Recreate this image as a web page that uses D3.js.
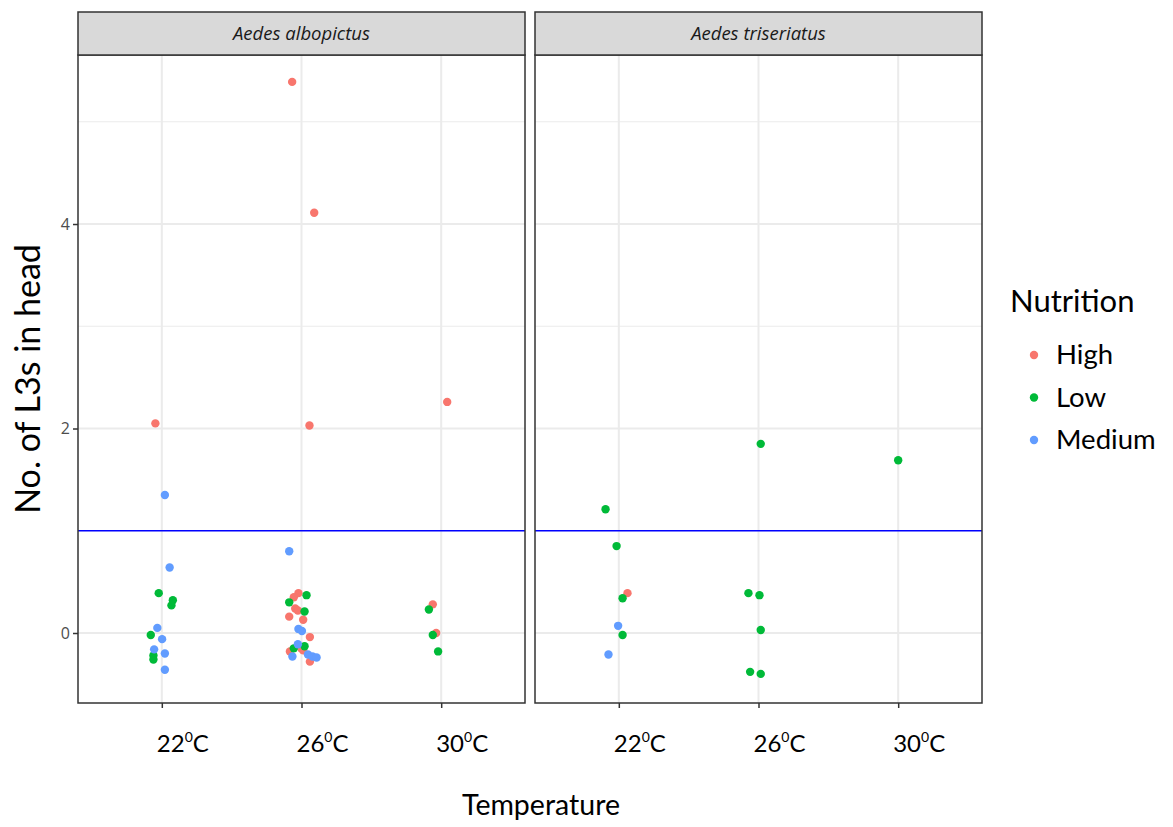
<!DOCTYPE html>
<html><head><meta charset="utf-8">
<script src="https://cdn.jsdelivr.net/npm/d3@7"></script>
<style>
body{margin:0;background:#fff;}
svg{display:block;}
</style></head>
<body>
<svg id="chart" width="1173" height="827"></svg>
<script>
// ---- data ----
const species = ["Aedes albopictus", "Aedes triseriatus"];
const temperatures = ["22", "26", "30"];
const nutritionLevels = ["High", "Low", "Medium"];
const nutritionColors = ["#F8766D", "#00BA38", "#619CFF"];
const yTicks = [0, 2, 4];
const thresholdValue = 1;
// points: [speciesIndex, temperature, jitter (category units), value]
const highPoints = [
  [0,"22",-0.046,2.05],
  [0,"26",-0.067,5.39],[0,"26",0.091,4.11],[0,"26",0.057,2.03],[0,"26",-0.022,0.39],
  [0,"26",-0.055,0.35],[0,"26",-0.045,0.24],[0,"26",-0.026,0.22],[0,"26",-0.088,0.16],
  [0,"26",0.012,0.13],[0,"26",0.060,-0.04],[0,"26",-0.002,-0.15],[0,"26",0.012,-0.17],
  [0,"26",-0.083,-0.18],[0,"26",0.060,-0.28],
  [0,"30",0.043,2.26],[0,"30",-0.060,0.28],[0,"30",-0.036,0.00],
  [1,"22",0.062,0.39]
];
const lowPoints = [
  [0,"22",-0.022,0.39],[0,"22",0.079,0.32],[0,"22",0.069,0.27],[0,"22",-0.079,-0.02],
  [0,"22",-0.060,-0.22],[0,"22",-0.060,-0.26],
  [0,"26",0.036,0.37],[0,"26",-0.088,0.30],[0,"26",0.022,0.21],[0,"26",0.022,-0.13],
  [0,"26",-0.055,-0.15],
  [0,"30",-0.088,0.23],[0,"30",-0.060,-0.02],[0,"30",-0.022,-0.18],
  [1,"22",-0.095,1.21],[1,"22",-0.016,0.85],[1,"22",0.027,0.34],[1,"22",0.027,-0.02],
  [1,"26",0.016,1.85],[1,"26",-0.072,0.39],[1,"26",0.007,0.37],[1,"26",0.016,0.03],
  [1,"26",-0.060,-0.38],[1,"26",0.016,-0.40],
  [1,"30",0.000,1.69]
];
const mediumPoints = [
  [0,"22",0.022,1.35],[0,"22",0.056,0.64],[0,"22",-0.032,0.05],[0,"22",0.002,-0.06],
  [0,"22",-0.055,-0.16],[0,"22",0.022,-0.20],[0,"22",0.022,-0.36],
  [0,"26",-0.088,0.80],[0,"26",-0.022,0.04],[0,"26",0.003,0.02],[0,"26",-0.026,-0.11],
  [0,"26",-0.065,-0.23],[0,"26",0.046,-0.21],[0,"26",0.079,-0.23],[0,"26",0.108,-0.24],
  [1,"22",-0.005,0.07],[1,"22",-0.074,-0.21]
];
const seriesPoints = [highPoints, lowPoints, mediumPoints];

// ---- layout ----
const svg = d3.select("#chart");
const panelLeft = [78, 535], panelW = 447;
const panelTop = 55, panelBottom = 703;
const stripTop = 12;
const fontMain = "Lato, 'Open Sans', sans-serif";

const y = d3.scaleLinear().domain([-0.6846, 5.653]).range([panelBottom, panelTop]);

species.forEach((sp, si) => {
  const x0 = panelLeft[si];
  const x = d3.scalePoint().domain(temperatures).range([x0, x0 + panelW]).padding(0.6);
  const step = x.step();
  const g = svg.append("g");
  g.append("rect").attr("x", x0).attr("y", panelTop).attr("width", panelW)
    .attr("height", panelBottom - panelTop).attr("fill", "#fff");
  [1,3,5].forEach(v => g.append("line").attr("x1", x0).attr("x2", x0 + panelW)
    .attr("y1", y(v)).attr("y2", y(v)).attr("stroke", "#EBEBEB").attr("stroke-width", 1));
  yTicks.forEach(v => g.append("line").attr("x1", x0).attr("x2", x0 + panelW)
    .attr("y1", y(v)).attr("y2", y(v)).attr("stroke", "#EBEBEB").attr("stroke-width", 2));
  temperatures.forEach(t => g.append("line").attr("x1", x(t)).attr("x2", x(t))
    .attr("y1", panelTop).attr("y2", panelBottom).attr("stroke", "#EBEBEB").attr("stroke-width", 2));
  g.append("line").attr("x1", x0).attr("x2", x0 + panelW)
    .attr("y1", y(thresholdValue)).attr("y2", y(thresholdValue))
    .attr("stroke", "#0000FF").attr("stroke-width", 1.6);
  seriesPoints.forEach((pts, ni) => {
    g.selectAll(null).data(pts.filter(p => p[0] === si)).enter().append("circle")
      .attr("cx", d => x(d[1]) + d[2] * step)
      .attr("cy", d => y(d[3]))
      .attr("r", 4.2)
      .attr("fill", nutritionColors[ni]);
  });
  g.append("rect").attr("x", x0).attr("y", panelTop).attr("width", panelW)
    .attr("height", panelBottom - panelTop).attr("fill", "none")
    .attr("stroke", "#333").attr("stroke-width", 1.5);
  g.append("rect").attr("x", x0).attr("y", stripTop).attr("width", panelW)
    .attr("height", panelTop - stripTop).attr("fill", "#D9D9D9")
    .attr("stroke", "#333").attr("stroke-width", 1.5);
  g.append("text").attr("x", x0 + panelW / 2).attr("y", (stripTop + panelTop) / 2 + 6)
    .attr("text-anchor", "middle").attr("font-style", "italic")
    .attr("font-family", "'Open Sans', sans-serif").attr("font-size", 18.5).attr("fill", "#1A1A1A")
    .text(sp);
  const ax = g.append("g").attr("transform", `translate(0,${panelBottom})`)
    .call(d3.axisBottom(x).tickSize(5).tickSizeOuter(0).tickFormat(""));
  ax.select(".domain").remove();
  ax.selectAll(".tick line").attr("stroke", "#333").attr("stroke-width", 1.5);
  temperatures.forEach(t => {
    const txt = g.append("text").attr("x", x(t) - 5).attr("y", 752).attr("font-family", fontMain)
      .attr("font-size", 24).attr("fill", "#000");
    txt.append("tspan").text(t);
    txt.append("tspan").attr("font-size", 14).attr("dy", -10).text("0");
    txt.append("tspan").attr("dy", 10).text("C");
  });
  if (si === 0) {
    const ay = g.append("g").attr("transform", `translate(${x0},0)`)
      .call(d3.axisLeft(y).tickValues(yTicks).tickSize(5).tickFormat(d3.format("d")));
    ay.select(".domain").remove();
    ay.selectAll(".tick line").attr("stroke", "#333").attr("stroke-width", 1.5);
    ay.selectAll(".tick text").attr("fill", "#4D4D4D").attr("font-size", 16)
      .attr("font-family", "'Open Sans', sans-serif").attr("x", -8);
  }
});

// axis titles
svg.append("text").attr("x", 541).attr("y", 815).attr("text-anchor", "middle")
  .attr("font-family", fontMain).attr("font-size", 28.5).text("Temperature");
svg.append("text").attr("transform", `translate(40,${(panelTop + panelBottom) / 2}) rotate(-90)`)
  .attr("text-anchor", "middle").attr("font-family", fontMain).attr("font-size", 34)
  .text("No. of L3s in head");

// legend
const lg = svg.append("g");
lg.append("text").attr("x", 1010).attr("y", 312).attr("font-family", fontMain)
  .attr("font-size", 31).text("Nutrition");
nutritionLevels.forEach((n, i) => {
  const cy = 355 + i * 42.5;
  lg.append("circle").attr("cx", 1034).attr("cy", cy).attr("r", 4.2).attr("fill", nutritionColors[i]);
  lg.append("text").attr("x", 1056).attr("y", cy + 9).attr("font-family", fontMain)
    .attr("font-size", 27.5).text(n);
});
</script>
</body></html>
